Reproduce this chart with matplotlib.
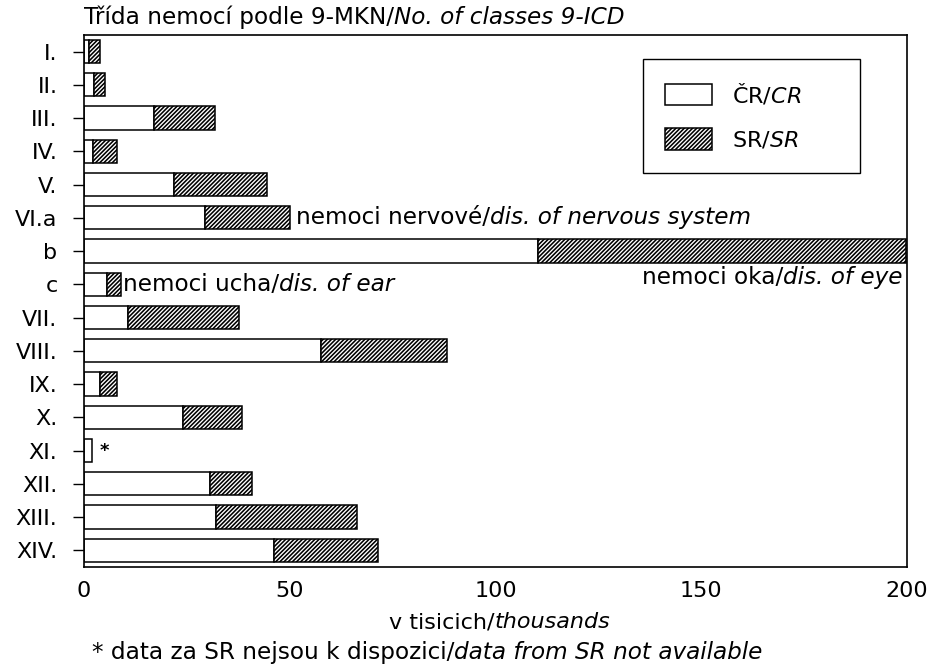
import numpy as np
import matplotlib.pyplot as plt

plt.rcParams['font.family'] = 'DejaVu Sans'
plt.rcParams['mathtext.fontset'] = 'custom'
plt.rcParams['mathtext.rm'] = 'DejaVu Sans'
plt.rcParams['mathtext.it'] = 'DejaVu Sans:italic'
plt.rcParams['hatch.linewidth'] = 1.15

# tridy nemoci / disease classes (thousands)
classes = ['I.', 'II.', 'III.', 'IV.', 'V.', 'VI.a', 'b', 'c', 'VII.', 'VIII.',
           'IX.', 'X.', 'XI.', 'XII.', 'XIII.', 'XIV.']
cr = [1.3, 2.4, 17.1, 2.1, 22.0, 29.3, 110.4, 5.5, 10.6, 57.5,
      3.9, 24.1, 1.9, 30.7, 32.0, 46.1]
sr = [2.5, 2.8, 14.7, 5.9, 22.6, 20.7, 89.3, 3.4, 27.1, 30.8,
      4.1, 14.4, np.nan, 10.1, 34.3, 25.3]
xticks = [0, 50, 100, 150, 200]

cr = np.array(cr)
sr = np.array(sr)
y = np.arange(len(classes))
FS = 16
TFS = 16.7


def rich(ax, x, y, pieces, ha='left', va='center', transform=None, fs=TFS):
    # pieces: list of (string, italic?) drawn one after another on one baseline
    if transform is None:
        transform = ax.transData
    seq = pieces if ha == 'left' else pieces[::-1]
    s, it = seq[0]
    t = ax.text(x, y, s, ha=ha, va=va, transform=transform, fontsize=fs,
                fontstyle='italic' if it else 'normal')
    for s, it in seq[1:]:
        t = ax.annotate(s, xy=(1, 0) if ha == 'left' else (0, 0), xycoords=t,
                        ha=ha, va='bottom', fontsize=fs,
                        fontstyle='italic' if it else 'normal',
                        annotation_clip=False)
    return t


fig = plt.figure(figsize=(9.37, 6.71), dpi=100)
ax = fig.add_axes([0.0896, 0.155, 0.8783, 0.793])

ax.barh(y, cr, height=0.7, color='white', edgecolor='black', linewidth=1.1,
        label=r'ČR/$\mathit{CR}$')
ax.barh(y, sr, left=cr, height=0.7, color='white', edgecolor='black',
        linewidth=1.1, hatch='////////', label=r'SR/$\mathit{SR}$')

ax.set_xlim(0, 200)
ax.set_ylim(15.5, -0.5)
ax.set_yticks(y)
ax.set_yticklabels(classes, fontsize=FS)
ax.set_xticks(xticks)
ax.set_xticklabels([str(t) for t in xticks], fontsize=FS)
ax.tick_params(axis='y', length=8, width=1, pad=11)
ax.tick_params(axis='x', length=0, pad=10)
for s in ax.spines.values():
    s.set_linewidth(1.2)

tot = cr + np.nan_to_num(sr)
rich(ax, tot[5] + 1.5, 5, [('nemoci nervové/', False), ('dis. of nervous system', True)])
rich(ax, 199, 6.8, [('nemoci oka/', False), ('dis. of eye', True)], ha='right')
rich(ax, tot[7] + 0.6, 7, [('nemoci ucha/', False), ('dis. of ear', True)])
ax.text(tot[12] + 2, 12, '*', fontsize=13, fontweight='bold', va='center', ha='left')

# title, axis label and footnote as figure texts
rich(ax, 0.0896, 0.975, [('Třída nemocí podle 9-MKN/', False), ('No. of classes 9-ICD', True)],
     transform=fig.transFigure)
rich(ax, 0.415, 0.073, [('v tisicich/', False), ('thousands', True)],
     transform=fig.transFigure, fs=FS)
rich(ax, 0.098, 0.028, [('* data za SR nejsou k dispozici/', False),
                        ('data from SR not available', True)],
     transform=fig.transFigure)

ax.legend(loc='upper left', bbox_to_anchor=(0.679, 0.0, 0.264, 0.955), mode='expand',
          fancybox=False, edgecolor='black', framealpha=1, fontsize=FS,
          handlelength=2.1, handleheight=1.1, borderpad=1.0, labelspacing=1.0,
          handletextpad=0.9, borderaxespad=0)

fig.savefig('out.png', dpi=100)
